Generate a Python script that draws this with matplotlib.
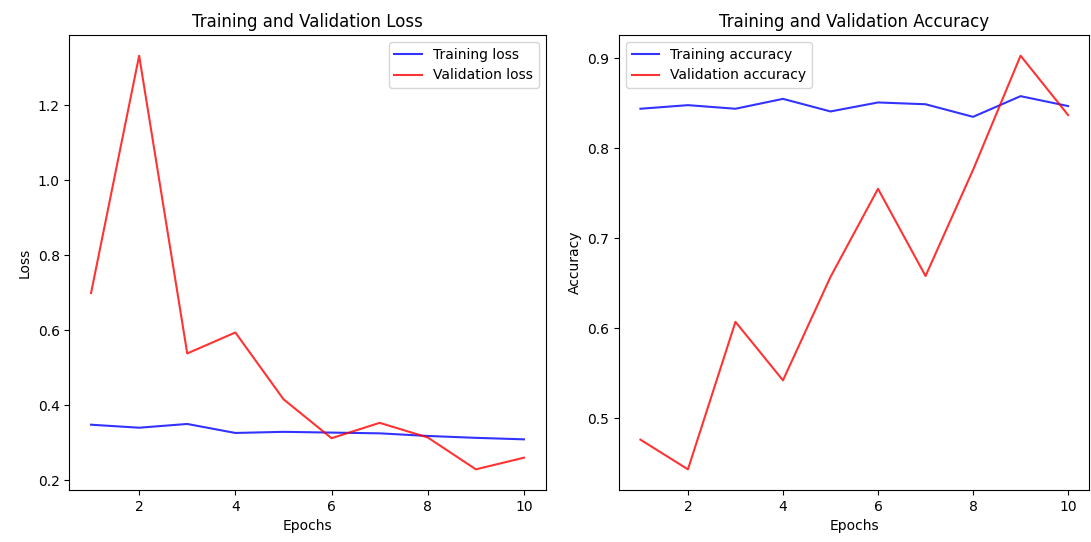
import matplotlib
matplotlib.use('Agg')
import matplotlib.pyplot as plt

# 数据
epochs = [1, 2, 3, 4, 5, 6, 7, 8, 9, 10]
train_loss = [0.348, 0.340, 0.350, 0.326, 0.329, 0.327, 0.325, 0.318, 0.313, 0.309]
val_loss = [0.699, 1.332, 0.538, 0.594, 0.416, 0.312, 0.353, 0.314, 0.229, 0.260]
train_acc = [0.844, 0.848, 0.844, 0.855, 0.841, 0.851, 0.849, 0.835, 0.858, 0.847]
val_acc = [0.476, 0.443, 0.607, 0.542, 0.657, 0.755, 0.658, 0.776, 0.903, 0.837]

fig = plt.figure(figsize=(10.91, 5.42), dpi=100)
ax1 = fig.add_axes([0.0636, 0.0959, 0.4365, 0.8395])
ax2 = fig.add_axes([0.5674, 0.0959, 0.4312, 0.8395])

# 损失曲线
ax1.plot(epochs, train_loss, 'b', alpha=0.8, label='Training loss')
ax1.plot(epochs, val_loss, 'r', alpha=0.8, label='Validation loss')
ax1.set_title('Training and Validation Loss')
ax1.set_xlabel('Epochs')
ax1.set_ylabel('Loss')
ax1.legend()

# 准确率曲线
ax2.plot(epochs, train_acc, 'b', alpha=0.8, label='Training accuracy')
ax2.plot(epochs, val_acc, 'r', alpha=0.8, label='Validation accuracy')
ax2.set_title('Training and Validation Accuracy')
ax2.set_xlabel('Epochs')
ax2.set_ylabel('Accuracy')
ax2.legend()

fig.savefig('out.png', dpi=100)
